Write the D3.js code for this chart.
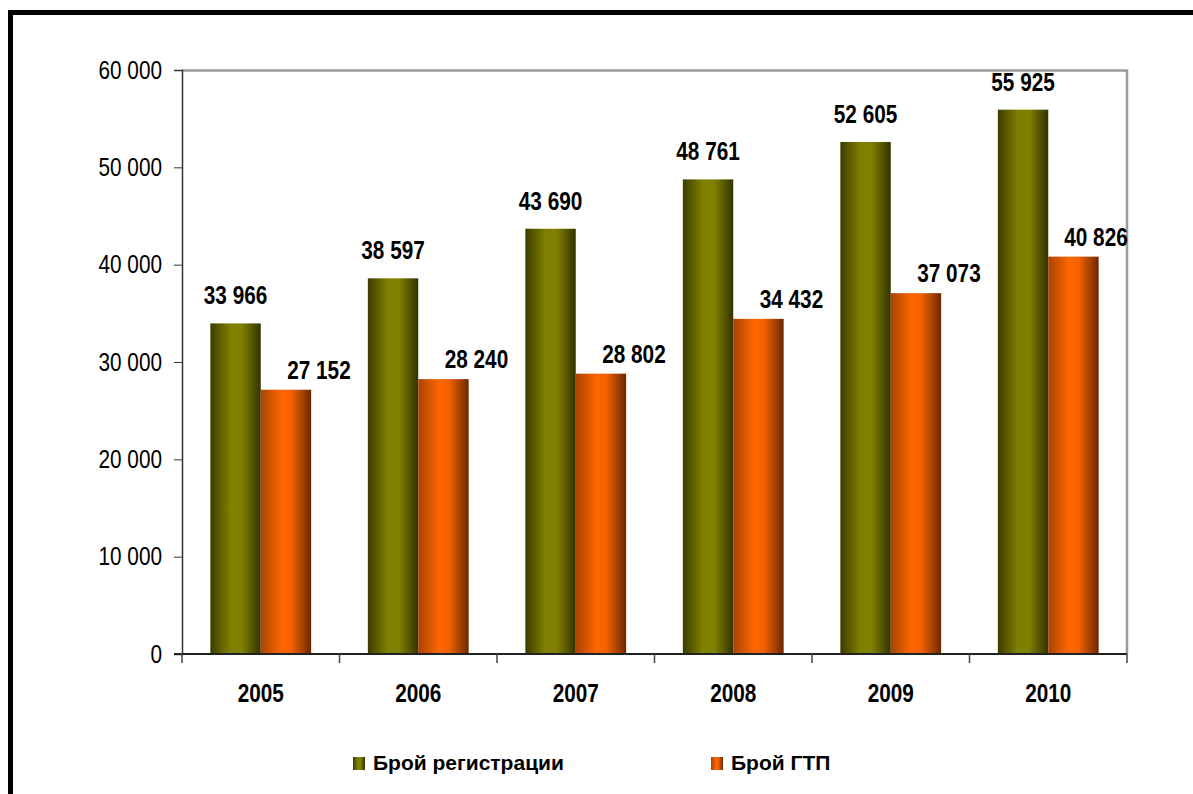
<!DOCTYPE html>
<html>
<head>
<meta charset="utf-8">
<script src="https://cdn.jsdelivr.net/npm/d3@7"></script>
<style>
  body { margin: 0; background: #fff; }
  svg text { font-family: "Liberation Sans Narrow", "Arial Narrow", "Liberation Sans", Arial, sans-serif; }
</style>
</head>
<body>
<div id="chart"></div>
<script>
// values
var years = ["2005", "2006", "2007", "2008", "2009", "2010"];
var registrations = [33966, 38597, 43690, 48761, 52605, 55925];
var gtp = [27152, 28240, 28802, 34432, 37073, 40826];
var seriesNames = ["Брой регистрации", "Брой ГТП"];
var yTicks = [0, 10000, 20000, 30000, 40000, 50000, 60000];

var width = 1193, height = 794;
var margin = { top: 70, right: 66, bottom: 140, left: 182 };
var plotW = width - margin.left - margin.right,
    plotH = height - margin.top - margin.bottom;

// no narrow font installed -> squeeze the regular one
var squeeze = 0.83;

var svg = d3.select("#chart").append("svg")
    .attr("width", width)
    .attr("height", height);

// gradients for the "cylinder" look of the bars
var defs = svg.append("defs");
function grad(id, stops) {
    var g = defs.append("linearGradient").attr("id", id)
        .attr("x1", "0%").attr("x2", "100%").attr("y1", "0%").attr("y2", "0%");
    stops.forEach(function (s) {
        g.append("stop").attr("offset", s[0]).attr("stop-color", s[1]);
    });
}
grad("gGreen", [["0%", "#3c3c00"], ["40%", "#808000"], ["62%", "#808000"], ["100%", "#333300"]]);
grad("gOrange", [["0%", "#a84400"], ["42%", "#ff6600"], ["60%", "#f56200"], ["100%", "#6a2800"]]);
var fills = ["url(#gGreen)", "url(#gOrange)"];

// outer black frame
svg.append("rect")
    .attr("x", 10.5).attr("y", 12.5)
    .attr("width", width + 20).attr("height", height + 20)
    .attr("fill", "none").attr("stroke", "#000").attr("stroke-width", 5);

var g = svg.append("g")
    .attr("transform", "translate(" + margin.left + "," + margin.top + ")");

var x0 = d3.scaleBand().domain(years).range([0, plotW]).paddingInner(0.36).paddingOuter(0.18);
var x1 = d3.scaleBand().domain([0, 1]).range([0, x0.bandwidth()]);
var y = d3.scaleLinear().domain([0, 60000]).range([plotH, 0]);

// plot area border (top / right grey)
g.append("path")
    .attr("d", "M0,0.5H" + plotW + "V" + plotH)
    .attr("fill", "none").attr("stroke", "#9a9a9a").attr("stroke-width", 2.5);

var groups = g.selectAll(".yr").data(years).enter().append("g")
    .attr("transform", function (d) { return "translate(" + x0(d) + ",0)"; });

var series = [registrations, gtp];
series.forEach(function (vals, si) {
    groups.append("rect")
        .attr("x", x1(si))
        .attr("width", x1.bandwidth())
        .attr("y", function (d, i) { return y(vals[i]); })
        .attr("height", function (d, i) { return plotH - y(vals[i]); })
        .attr("fill", fills[si]);
});

var fmt = function (v) { return d3.format(",")(v).replace(/,/g, " "); };

// text placed at (x,y) then squeezed horizontally
function narrowText(sel, fx, fy) {
    sel.attr("transform", function (d, i) {
        return "translate(" + fx(d, i) + "," + fy(d, i) + ") scale(" + squeeze + ",1)";
    });
}

// value labels
var lab1 = groups.append("text")
    .attr("text-anchor", "middle")
    .attr("font-size", 25).attr("font-weight", "bold")
    .text(function (d, i) { return fmt(registrations[i]); });
narrowText(lab1,
    function () { return x1(0) + x1.bandwidth() / 2; },
    function (d, i) { return y(registrations[i]) - 19; });

var lab2 = groups.append("text")
    .attr("text-anchor", "middle")
    .attr("font-size", 25).attr("font-weight", "bold")
    .text(function (d, i) { return fmt(gtp[i]); });
narrowText(lab2,
    function (d) {
        var cx = x1(1) + x1.bandwidth() / 2 + 33;
        // keep inside the plot area
        return Math.min(cx, plotW - x0(d) - 31);
    },
    function (d, i) { return y(gtp[i]) - 11; });

// y axis
var yAxis = g.append("g")
    .call(d3.axisLeft(y).tickValues(yTicks).tickSize(8).tickPadding(10).tickFormat(fmt));
yAxis.select(".domain").attr("stroke", "#333").attr("stroke-width", 1.5);
yAxis.selectAll(".tick line").attr("stroke", "#333");
yAxis.selectAll("text")
    .attr("font-size", 25).attr("fill", "#000").attr("font-family", null)
    .attr("x", 0)
    .attr("transform", "translate(-20,0) scale(" + squeeze + ",1)");

// x axis, ticks between categories
var xAxis = g.append("g").attr("transform", "translate(0," + plotH + ")");
xAxis.append("line").attr("x1", -8).attr("x2", plotW).attr("stroke", "#222").attr("stroke-width", 2);
xAxis.selectAll(".xt").data(d3.range(years.length + 1)).enter().append("line")
    .attr("x1", function (i) { return i * plotW / years.length; })
    .attr("x2", function (i) { return i * plotW / years.length; })
    .attr("y1", 0).attr("y2", 9)
    .attr("stroke", "#444").attr("stroke-width", 1.5);
var xl = xAxis.selectAll(".xl").data(years).enter().append("text")
    .attr("text-anchor", "middle")
    .attr("font-size", 25).attr("font-weight", "bold")
    .text(function (d) { return d; });
narrowText(xl, function (d) { return x0(d) + x0.bandwidth() / 2; }, function () { return 48; });

// legend
var legX = [353, 711];
var leg = svg.selectAll(".leg").data(seriesNames).enter().append("g")
    .attr("transform", function (d, i) { return "translate(" + legX[i] + ",757)"; });
leg.append("rect").attr("width", 12).attr("height", 13)
    .attr("fill", function (d, i) { return fills[i]; });
leg.append("text").attr("x", 20).attr("y", 13)
    .attr("font-size", 21).attr("font-weight", "bold")
    .text(function (d) { return d; });
</script>
</body>
</html>
